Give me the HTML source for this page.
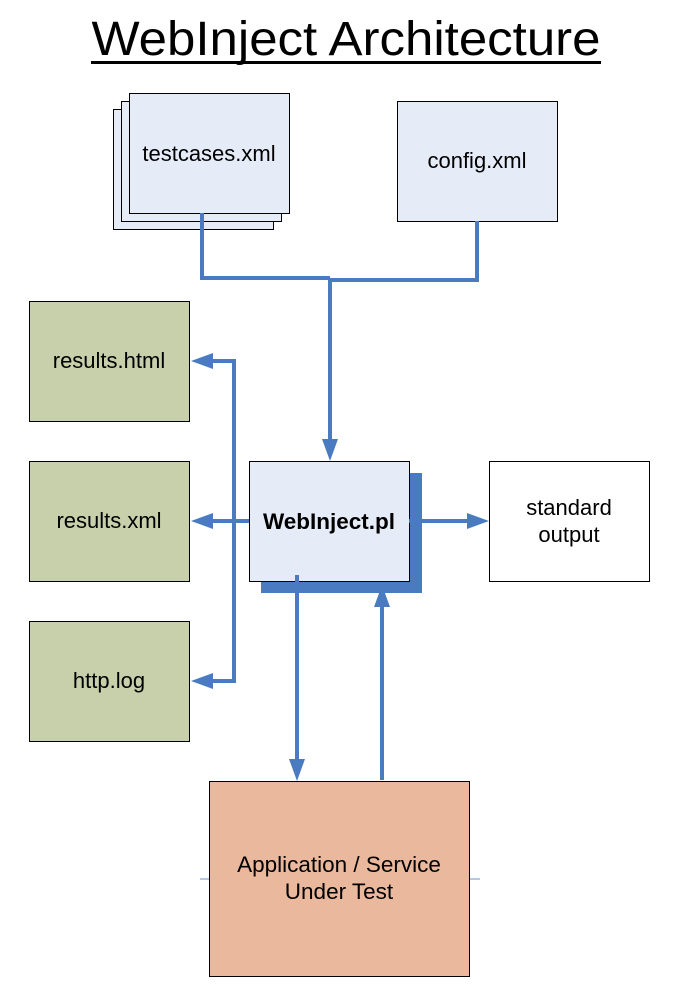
<!DOCTYPE html>
<html><head><meta charset="utf-8"><style>
html,body{margin:0;padding:0;background:#fff;}
svg{display:block;}
text{font-family:"Liberation Sans",Arial,sans-serif;fill:#000;}
</style></head><body>
<svg width="678" height="1004" viewBox="0 0 678 1004" xmlns="http://www.w3.org/2000/svg">
<rect width="678" height="1004" fill="#fff"/>
<text x="346" y="55" font-size="48" text-anchor="middle" textLength="509" lengthAdjust="spacingAndGlyphs">WebInject Architecture</text>
<rect x="91" y="61" width="510" height="3" fill="#000"/>

<rect x="113.5" y="109.5" width="160" height="120" fill="#e6ecf7" stroke="#000"/>
<rect x="121.5" y="101.5" width="160" height="120" fill="#e6ecf7" stroke="#000"/>
<rect x="129.5" y="93.5" width="160" height="120" fill="#e6ecf7" stroke="#000"/>
<text x="209" y="161" font-size="22" text-anchor="middle">testcases.xml</text>

<rect x="397.5" y="101.5" width="160" height="120" fill="#e6ecf7" stroke="#000"/>
<text x="477" y="168" font-size="22" text-anchor="middle">config.xml</text>

<g stroke="#4a7abf" stroke-width="4" fill="none">
<polyline points="202,213 202,278 330,278"/>
<polyline points="477,221 477,280 330,280"/>
<line x1="330" y1="278" x2="330" y2="440"/>
<polyline points="212,361 234,361 234,681 212,681"/>
<line x1="249" y1="521" x2="212" y2="521"/>
<line x1="409" y1="521" x2="468" y2="521"/>
<line x1="297" y1="581" x2="297" y2="760"/>
<line x1="382" y1="780" x2="382" y2="605"/>
</g>
<g fill="#4a7abf">
<polygon points="330,461 322,439 338,439"/>
<polygon points="191,361 213,353 213,369"/>
<polygon points="191,521 213,513 213,529"/>
<polygon points="191,681 213,673 213,689"/>
<polygon points="489,521 467,513 467,529"/>
<polygon points="297,781 289,759 305,759"/>
</g>

<rect x="29.5" y="301.5" width="160" height="120" fill="#c7cfab" stroke="#000"/>
<text x="109" y="368" font-size="22" text-anchor="middle">results.html</text>
<rect x="29.5" y="461.5" width="160" height="120" fill="#c7cfab" stroke="#000"/>
<text x="109" y="528" font-size="22" text-anchor="middle">results.xml</text>
<rect x="29.5" y="621.5" width="160" height="120" fill="#c7cfab" stroke="#000"/>
<text x="109" y="688" font-size="22" text-anchor="middle">http.log</text>

<rect x="261" y="473" width="161" height="120" fill="#4a7abf"/>
<rect x="249.5" y="461.5" width="160" height="120" fill="#e6ecf7" stroke="#000"/>
<line x1="409" y1="521" x2="422" y2="521" stroke="#4a7abf" stroke-width="4"/>
<line x1="297" y1="575" x2="297" y2="593" stroke="#4a7abf" stroke-width="4"/>
<polygon points="382,585 374,607 390,607" fill="#4a7abf"/>
<text x="329" y="529" font-size="22.5" font-weight="bold" text-anchor="middle">WebInject.pl</text>

<rect x="489.5" y="461.5" width="160" height="120" fill="#fff" stroke="#000"/>
<text x="569" y="515" font-size="22" text-anchor="middle">standard</text>
<text x="569" y="542" font-size="22" text-anchor="middle">output</text>

<line x1="200" y1="879" x2="480" y2="879" stroke="#9bb5de" stroke-width="1.5"/>
<rect x="209.5" y="781.5" width="260" height="195" fill="#eab89c" stroke="#000"/>
<text x="339" y="872" font-size="22.5" text-anchor="middle">Application / Service</text>
<text x="339" y="899" font-size="22.5" text-anchor="middle">Under Test</text>
</svg>
</body></html>
